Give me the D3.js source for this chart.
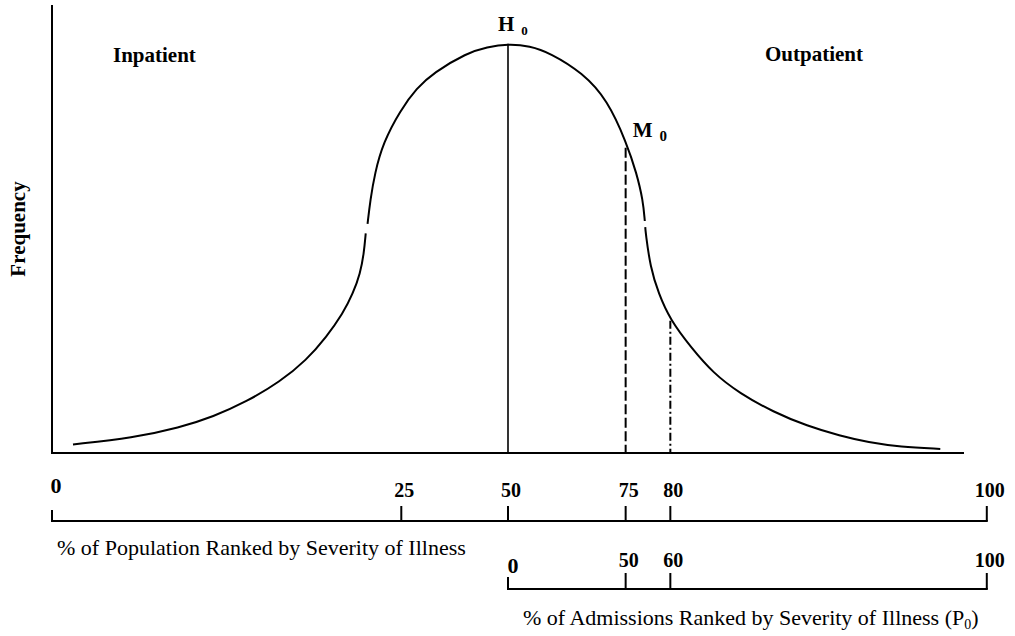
<!DOCTYPE html>
<html>
<head>
<meta charset="utf-8">
<script src="https://cdn.jsdelivr.net/npm/d3@7"></script>
<style>
  body { margin: 0; background: #fff; }
  svg { display: block; }
  text { font-family: "Liberation Serif", "Times New Roman", serif; fill: #000; }
</style>
</head>
<body>
<div id="chart"></div>
<script>
//  data  (x = severity of illness 0..100 along main axis, y = frequency, peak = 100)
const leftTail = [[2.3,2.1],[8.9,3.7],[14.0,6.2],[17.7,8.9],[21.3,12.5],[25.0,17.4],
                  [27.9,22.7],[30.1,28.4],[31.9,34.1],[33.0,39.0],[33.8,43.9],[34.2,48.8],[34.4,53.7]];
const topArc = [[34.6,56.0],[34.9,61.8],[35.4,68.4],[36.3,75.8],[38.2,83.8],[40.0,89.2],
                [41.8,92.9],[45.5,97.8],[47.7,99.2],[50.0,100],[52.4,99.5],[54.6,97.8],
                [58.2,92.9],[60.9,86.3],[63.0,75.8],[64.1,68.4],[64.8,61.8],[65.0,56.7]];
const rightTail = [[65.05,55.2],[65.1,53.7],[65.6,45.5],[66.5,39.0],[67.8,32.5],[70.0,26.0],
                   [72.5,19.5],[75.4,14.6],[79.1,10.0],[82.8,6.6],[86.4,4.2],[89.5,2.6],
                   [93.0,1.5],[97.4,1.0]];

// vertical markers: H0 (mode), M0, and the 80th percentile cut
const markerSev = [50, 62.9, 67.8];
const markerTop = [100, 74.6, 32.3];
const markerDash = [null, "10,3.5", "8,3,2,3"];

// % of population ticks and where they sit on the severity axis
const popTicks = [0, 25, 50, 75, 80, 100];
const popTickSev = [0, 38.3, 50, 62.9, 67.8, 102.5];
// % of admissions ticks
const admTicks = [0, 50, 60, 100];
const admTickSev = [50, 62.9, 67.8, 102.5];

main()
function main(){
    const width = 1015, height = 636;

    const svg = d3.select('#chart').append('svg')
        .attr('width', width)
        .attr('height', height);

    const x = d3.scaleLinear().domain([0, 100]).range([52, 964]);
    const y = d3.scaleLinear().domain([0, 109.5]).range([453, 5]);

    // main axes
    svg.append('line')
        .attr('x1', x(0)).attr('x2', x(0))
        .attr('y1', y(0) + 1).attr('y2', y(109.5))
        .attr('stroke', '#000').attr('stroke-width', 2);
    svg.append('line')
        .attr('x1', x(0) - 1).attr('x2', x(100))
        .attr('y1', y(0)).attr('y2', y(0))
        .attr('stroke', '#000').attr('stroke-width', 2);

    // curve, drawn in three pieces like the original
    const line = d3.line()
        .x(d => x(d[0]))
        .y(d => y(d[1]))
        .curve(d3.curveBasis);
    [leftTail, topArc, rightTail].forEach(seg => {
        svg.append('path')
            .attr('d', line(seg))
            .attr('fill', 'none')
            .attr('stroke', '#000')
            .attr('stroke-width', 2);
    });

    // vertical markers
    markerSev.forEach((s, i) => {
        svg.append('line')
            .attr('x1', x(s)).attr('x2', x(s))
            .attr('y1', y(markerTop[i])).attr('y2', y(0))
            .attr('stroke', '#000')
            .attr('stroke-width', i == 0 ? 1.6 : 2)
            .attr('stroke-dasharray', markerDash[i]);
    });

    // H0 / M0 labels
    const h = svg.append('text')
        .attr('x', x(markerSev[0]) - 10)
        .attr('y', y(markerTop[0]) - 12.5)
        .attr('font-weight', 'bold').attr('font-size', 21)
        .text('H');
    h.append('tspan').attr('dx', 7).attr('dy', 3.5).attr('font-size', 13).text('0');

    const m = svg.append('text')
        .attr('x', x(markerSev[1]) + 7)
        .attr('y', y(markerTop[1]) - 10.7)
        .attr('font-weight', 'bold').attr('font-size', 21)
        .text('M');
    m.append('tspan').attr('dx', 7).attr('dy', 4.4).attr('font-size', 15).text('0');

    svg.append('text')
        .attr('x', 113).attr('y', 62)
        .attr('font-weight', 'bold').attr('font-size', 21)
        .text('Inpatient');
    svg.append('text')
        .attr('x', 765).attr('y', 61)
        .attr('font-weight', 'bold').attr('font-size', 21)
        .text('Outpatient');

    svg.append('text')
        .attr('transform', 'translate(25,229) rotate(-90)')
        .attr('text-anchor', 'middle')
        .attr('font-weight', 'bold').attr('font-size', 21)
        .text('Frequency');

    // % of population axis
    drawScaleBar(svg, x, popTickSev, popTicks, 521, 15, 24, 28, 4);
    svg.append('text')
        .attr('x', 57).attr('y', 555)
        .attr('font-size', 22)
        .text('% of Population Ranked by Severity of Illness');

    // % of admissions axis
    drawScaleBar(svg, x, admTickSev, admTicks, 589, 16, 22, 16, 5);
    const t = svg.append('text')
        .attr('x', 523).attr('y', 625)
        .attr('font-size', 22)
        .text('% of Admissions Ranked by Severity of Illness (P');
    t.append('tspan').attr('dy', 4).attr('font-size', 14).text('0');
    t.append('tspan').attr('dy', -4).text(')');
}

// horizontal scale bar with upward ticks and bold labels
function drawScaleBar(svg, x, sevs, labels, yLine, tickLen, labelOff, zeroOff, zeroDx){
    const g = svg.append('g');
    g.append('line')
        .attr('x1', x(sevs[0]) - 1).attr('x2', x(sevs[sevs.length - 1]) + 1)
        .attr('y1', yLine).attr('y2', yLine)
        .attr('stroke', '#000').attr('stroke-width', 2);

    sevs.forEach((s, i) => {
        g.append('line')
            .attr('x1', x(s)).attr('x2', x(s))
            .attr('y1', yLine).attr('y2', yLine - (i == 0 ? tickLen - 4 : tickLen))
            .attr('stroke', '#000').attr('stroke-width', 2);
        const zero = labels[i] === 0;
        g.append('text')
            .attr('x', x(s) + (zero ? zeroDx : 3))
            .attr('y', yLine - (zero ? zeroOff : labelOff))
            .attr('text-anchor', 'middle')
            .attr('font-weight', 'bold')
            .attr('font-size', zero ? 22 : 20)
            .text(labels[i]);
    });
}
</script>
</body>
</html>
